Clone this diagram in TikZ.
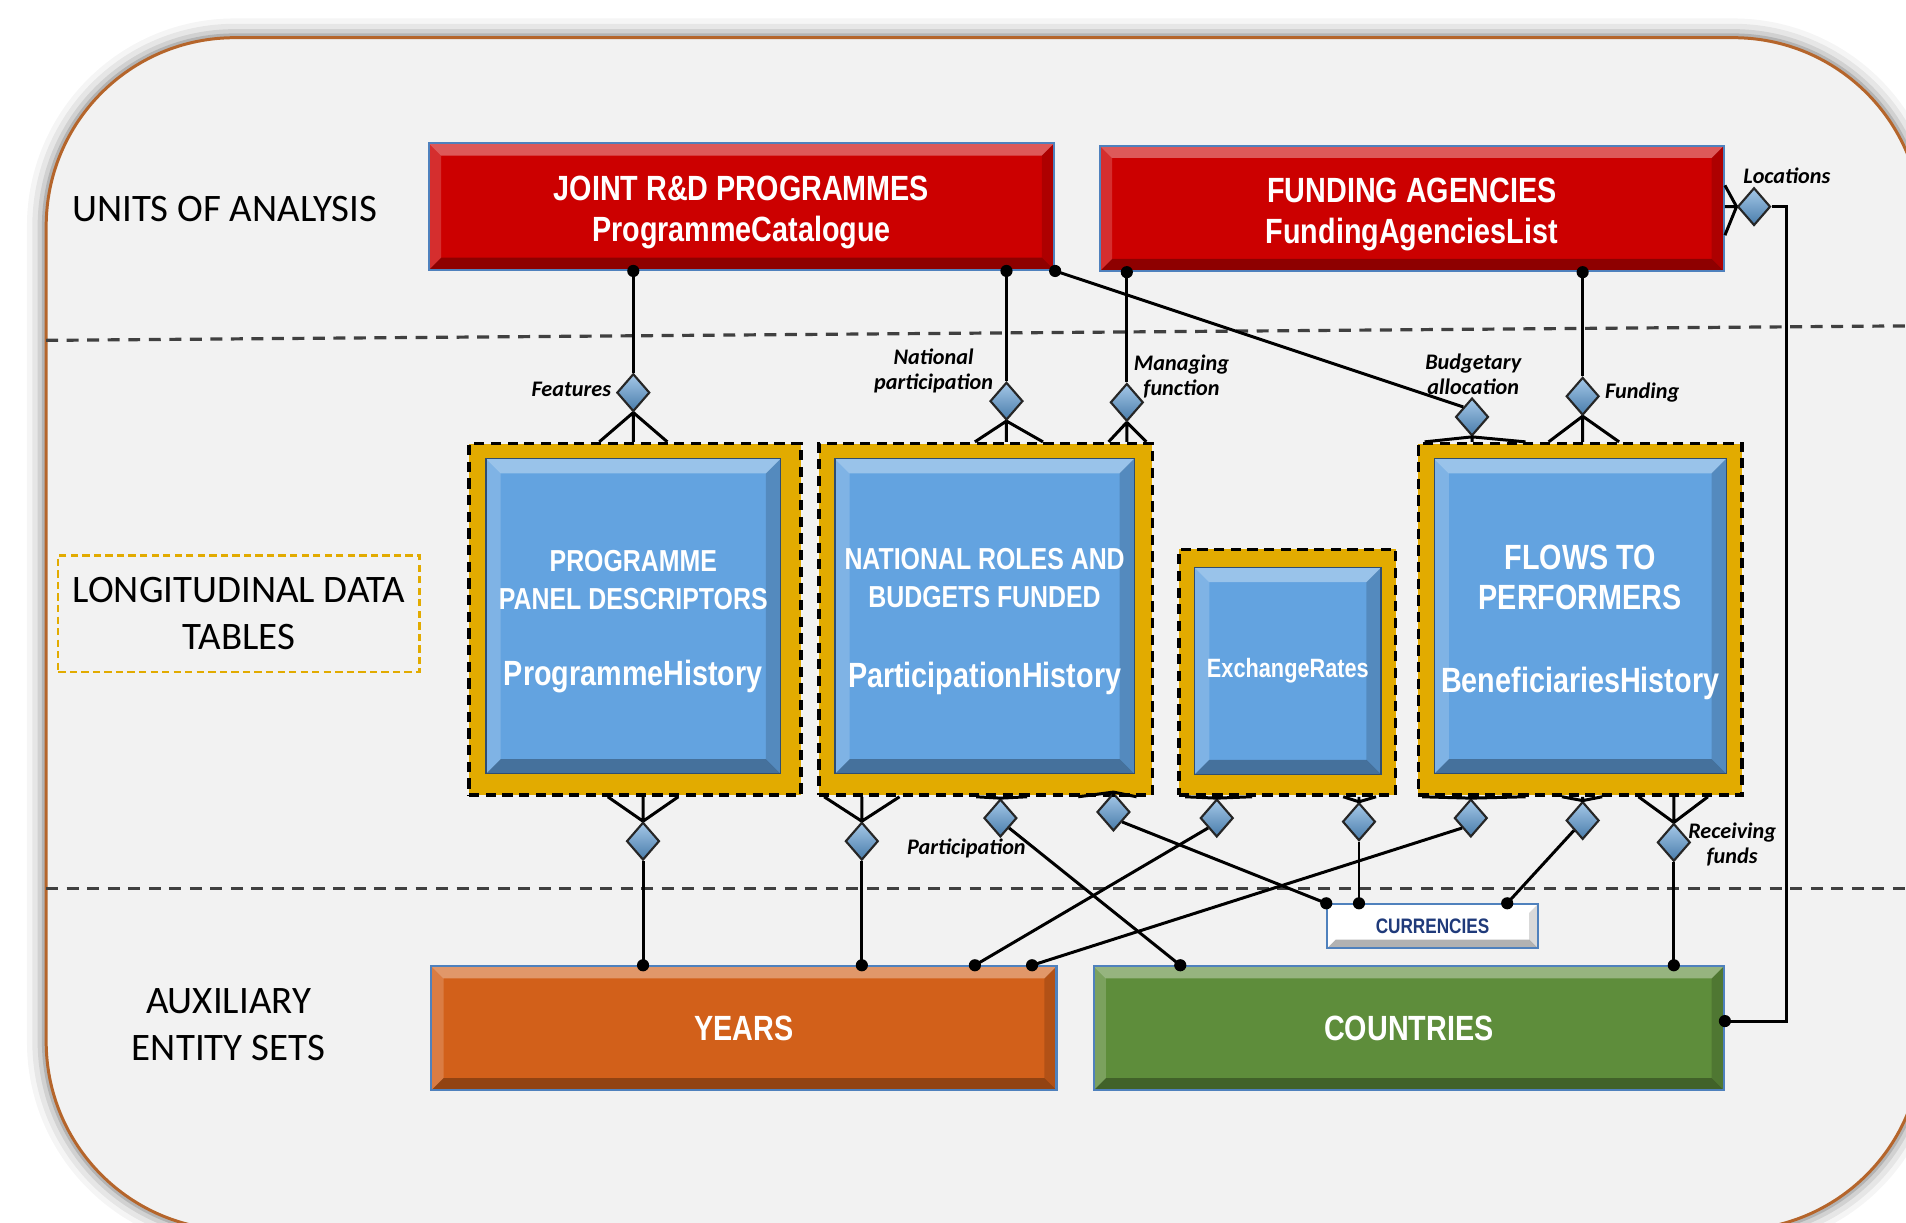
\documentclass[tikz,border=0pt]{standalone}
\usepackage{fontspec}
\setmainfont{Carlito}
\newfontfamily\narrowfont[FakeStretch=0.82]{Liberation Sans}
\usetikzlibrary{shapes.geometric,calc,positioning}
\definecolor{bggrey}{HTML}{F2F2F2}
\definecolor{rimbrown}{HTML}{B5652B}
\definecolor{unitred}{HTML}{CC0000}
\definecolor{tablegold}{HTML}{E2AB00}
\definecolor{tableblue}{HTML}{63A3E0}
\definecolor{yearorange}{HTML}{D2601A}
\definecolor{countrygreen}{HTML}{5E8D3B}
\definecolor{linkblue}{HTML}{5B9BD5}
\definecolor{edgeblue}{HTML}{4F81BD}
\definecolor{navytext}{HTML}{1F3A7A}
\newcommand\unitfont{\narrowfont\bfseries\fontsize{8.2}{9.5}\selectfont}
\newcommand\capsfont{\narrowfont\bfseries\fontsize{7.1}{8.8}\selectfont}
\newcommand\relfont{\bfseries\itshape\fontsize{5.2}{5.8}\selectfont}
\newcommand\layerfont{\fontsize{9.1}{11}\selectfont}
\newcommand\crowfoot[4]{%
  \draw[relline] (#1) -- ($(#1 |- #2)+(-#3,0)$) (#1) -- (#1 |- #2) (#1) -- ($(#1 |- #2)+(#4,0)$);}
\tikzset{
  bevel/.style={path picture={
        \coordinate (pnw) at (path picture bounding box.north west);
        \coordinate (pne) at (path picture bounding box.north east);
        \coordinate (psw) at (path picture bounding box.south west);
        \coordinate (pse) at (path picture bounding box.south east);
        \fill[white,opacity=.35] (pnw) -- (pne) -- ([shift={(-#1,-#1)}]pne) -- ([shift={(#1,-#1)}]pnw) -- cycle;
        \fill[white,opacity=.18] (pnw) -- ([shift={(#1,-#1)}]pnw) -- ([shift={(#1,#1)}]psw) -- (psw) -- cycle;
        \fill[black,opacity=.30] (psw) -- (pse) -- ([shift={(-#1,#1)}]pse) -- ([shift={(#1,#1)}]psw) -- cycle;
        \fill[black,opacity=.15] (pse) -- (pne) -- ([shift={(-#1,-#1)}]pne) -- ([shift={(-#1,#1)}]pse) -- cycle;
      }},
  bevel/.default=1mm,
  unitbox/.style={draw=edgeblue, line width=0.5pt, bevel, text=white, align=center, font=\unitfont},
  tblframe/.style={draw=black, line width=0.8pt, dash pattern=on 2.4pt off 1.5pt, fill=tablegold},
  tablebox/.style={draw=edgeblue!60!black, line width=0.3pt, fill=tableblue, bevel=1.2mm, text=white, align=center, font=\capsfont, inner sep=1pt},
  reldiamond/.style={diamond, draw=black!85, line width=0.5pt, top color=linkblue!55!white, bottom color=linkblue!80!black, inner sep=0pt, minimum width=0.27cm, minimum height=0.31cm},
  relline/.style={line width=0.7pt, black},
  dotmark/.style={circle, fill=black, inner sep=0pt, minimum size=1mm},
  relname/.style={font=\relfont, align=center, inner sep=0.5pt},
  layersep/.style={draw=black!75, line width=0.75pt, dash pattern=on 2.8pt off 2pt}
}
\begin{document}
\begin{tikzpicture}[x=0.01cm, y=-0.01cm]
      \useasboundingbox (0,0) rectangle (1568,1006);
      \clip (0,0) rectangle (1568,1006);
      \fill[white] (0,0) rectangle (1568,1006);
      % Rounded panel
      \foreach \w/\o in {9/0.04, 6.5/0.06, 4/0.09, 2/0.14}{
          \draw[line width=\w pt, black, opacity=\o, rounded corners=1.55cm] (38,31) rectangle (1581,1012);
        }
      \fill[bggrey, rounded corners=1.55cm] (38,31) rectangle (1581,1012);
      \draw[rimbrown, line width=0.7pt, rounded corners=1.55cm] (38,31) rectangle (1581,1012);
      % Layer separators
      \foreach \ya/\yb in {280/268, 731/731}{
          \draw[layersep] (38,\ya) -- (1581,\yb);
        }
      % Layer captions
      \node[font=\layerfont] (capUnits) at (185,172) {UNITS OF ANALYSIS};
      \node[draw=tablegold, line width=0.55pt, dash pattern=on 1.7pt off 1pt, minimum width=2.97cm, minimum height=0.96cm, align=center, font=\layerfont] (capTables) at (196.5,505) {LONGITUDINAL DATA\\TABLES};
      \node[align=center, font=\layerfont] (capAux) at (188,843) {AUXILIARY\\ENTITY SETS};
      % Units of analysis
      \node[unitbox, fill=unitred, minimum width=5.14cm, minimum height=1.04cm] (jrp) at (610,170) {\rule{0pt}{8.5pt}JOINT R\&D PROGRAMMES\\ProgrammeCatalogue};
      \node[unitbox, fill=unitred, minimum width=5.13cm, minimum height=1.03cm] (fa) at (1161.5,171.5) {\rule{0pt}{8.5pt}FUNDING AGENCIES\\FundingAgenciesList};
      % Longitudinal tables
      \node[tblframe, minimum width=2.73cm, minimum height=2.89cm] (phf) at (522.5,509.5) {};
      \node[tablebox, minimum width=2.42cm, minimum height=2.59cm] (ph) at (521,507) {\rule{0pt}{7.5pt}PROGRAMME\\PANEL DESCRIPTORS\\[9pt]{\unitfont ProgrammeHistory}};
      \node[tblframe, minimum width=2.74cm, minimum height=2.89cm] (pahf) at (811,509.5) {};
      \node[tablebox, minimum width=2.46cm, minimum height=2.59cm] (pah) at (810,507) {\rule{0pt}{7.5pt}NATIONAL ROLES AND\\BUDGETS FUNDED\\[10pt]{\unitfont ParticipationHistory}};
      \node[tblframe, minimum width=1.78cm, minimum height=2.02cm] (erf) at (1059,553) {};
      \node[tablebox, font=\narrowfont\bfseries\fontsize{6.2}{7}\selectfont, minimum width=1.53cm, minimum height=1.70cm] (er) at (1059.5,552) {ExchangeRates};
      \node[tblframe, minimum width=2.66cm, minimum height=2.89cm] (bhf) at (1300,509.5) {};
      \node[tablebox, font=\unitfont, minimum width=2.40cm, minimum height=2.59cm] (bh) at (1300,507) {\rule{0pt}{8.5pt}FLOWS TO\\PERFORMERS\\[9.8pt]BeneficiariesHistory};
      % Auxiliary sets
      \node[unitbox, fill=yearorange, minimum width=5.14cm, minimum height=1.02cm] (yrs) at (612,846) {YEARS};
      \node[unitbox, fill=countrygreen, minimum width=5.18cm, minimum height=1.02cm] (cty) at (1159,846) {COUNTRIES};
      \node[unitbox, bevel=0.7mm, fill=white, text=navytext, font=\narrowfont\bfseries\fontsize{4.9}{6}\selectfont, minimum width=1.73cm, minimum height=0.36cm] (cur) at (1178.5,762) {CURRENCIES};
      % Relationship diamonds
      \node[reldiamond] (dFeat) at (521,323) {};
      \node[reldiamond] (dNat) at (828,330) {};
      \node[reldiamond] (dMan) at (927,331) {};
      \node[reldiamond] (dBud) at (1211,343) {};
      \node[reldiamond] (dFund) at (1302,326) {};
      \node[reldiamond] (dLoc) at (1443,170) {};
      \node[reldiamond] (dPHy) at (529,692) {};
      \node[reldiamond] (dPaHy) at (709,692) {};
      \node[reldiamond] (dPart) at (823,673) {};
      \node[reldiamond] (dPaHc) at (916,668) {};
      \node[reldiamond] (dERy) at (1001,673) {};
      \node[reldiamond] (dERc) at (1118,676) {};
      \node[reldiamond] (dBHy) at (1210,673) {};
      \node[reldiamond] (dBHc) at (1302,675) {};
      \node[reldiamond] (dRec) at (1377,693) {};
      % Top relationships
      \draw[relline] (dFeat.north) -- (dFeat |- jrp.south) node[dotmark]{};
      \crowfoot{dFeat.south}{phf.north}{28}{28}
      \draw[relline] (dNat.north) -- (dNat |- jrp.south) node[dotmark]{};
      \crowfoot{dNat.south}{pahf.north}{26}{30}
      \draw[relline] (dMan.north) -- (dMan |- fa.south) node[dotmark]{};
      \crowfoot{dMan.south}{pahf.north}{15}{16}
      \draw[relline] (dBud.north west) -- (jrp.south east) node[dotmark]{};
      \crowfoot{dBud.south}{bhf.north}{39}{44}
      \draw[relline] (dFund.north) -- (dFund |- fa.south) node[dotmark]{};
      \crowfoot{dFund.south}{bhf.north}{28}{30}
      \draw[relline] (dLoc.east) -- ++(12,0) |- ($(cty.east)+(0,-6)$) node[dotmark]{};
      \draw[relline] (dLoc.west) -- ($(fa.east)+(0,-19)$) (dLoc.west) -- (dLoc.west -| fa.east) (dLoc.west) -- ($(fa.east)+(0,22)$);
      % Bottom relationships
      \crowfoot{dPHy.north}{phf.south}{29}{29}
      \draw[relline] (dPHy.south) -- (dPHy |- yrs.north) node[dotmark]{};
      \crowfoot{dPaHy.north}{pahf.south}{31}{31}
      \draw[relline] (dPaHy.south) -- (dPaHy |- yrs.north) node[dotmark]{};
      \crowfoot{dPart.north}{pahf.south}{20}{22}
      \draw[relline] (dPart.south east) -- ($(cty.north west)+(72,0)$) node[dotmark]{};
      \crowfoot{dPaHc.north}{pahf.south}{29}{19}
      \draw[relline] (dPaHc.south east) -- (cur.north west) node[dotmark]{};
      \crowfoot{dERy.north}{erf.south}{26}{29}
      \draw[relline] (dERy.south west) -- ($(yrs.north east)+(-68,0)$) node[dotmark]{};
      \crowfoot{dERc.north}{erf.south}{13}{14}
      \draw[relline] (dERc.south) -- (dERc |- cur.north) node[dotmark]{};
      \crowfoot{dBHy.north}{bhf.south}{40}{45}
      \draw[relline] (dBHy.south west) -- ($(yrs.north east)+(-21,0)$) node[dotmark]{};
      \crowfoot{dBHc.north}{bhf.south}{17}{16}
      \draw[relline] (dBHc.south west) -- ($(cur.north east)+(-26,0)$) node[dotmark]{};
      \crowfoot{dRec.north}{bhf.south}{29}{28}
      \draw[relline] (dRec.south) -- (dRec |- cty.north) node[dotmark]{};
      % Relationship names
      \node[relname] (tFeat) at (470,320) {Features};
      \node[relname] (tNat) at (768,305) {National\\participation};
      \node[relname] (tMan) at (972,310) {Managing\\function};
      \node[relname] (tBud) at (1212,308) {Budgetary\\allocation};
      \node[relname] (tFund) at (1351,323) {Funding};
      \node[relname] (tLoc) at (1470,145) {Locations};
      \node[relname] (tPart) at (795,698) {Participation};
      \node[relname] (tRec) at (1425,695) {Receiving\\funds};
    \end{tikzpicture}
\end{document}
